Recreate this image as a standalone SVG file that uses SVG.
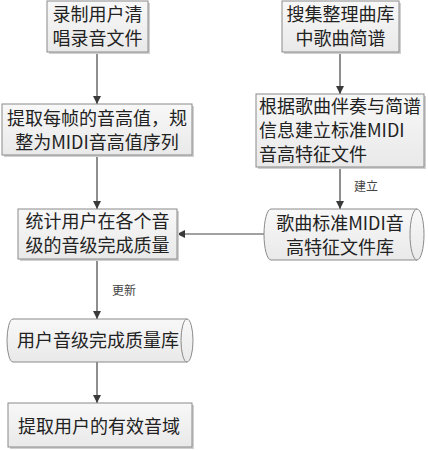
<svg xmlns="http://www.w3.org/2000/svg" width="428" height="450" viewBox="0 0 428 450">
<defs>
<linearGradient id="g" x1="0" y1="0" x2="0" y2="1">
<stop offset="0" stop-color="#f8f8f8"/>
<stop offset="1" stop-color="#e9e9e9"/>
</linearGradient>
<marker id="ah" markerWidth="8" markerHeight="8" refX="8" refY="4" orient="auto" markerUnits="userSpaceOnUse">
<path d="M0,0 L8,4 L0,8 Z" fill="#3a3a3a"/>
</marker>
</defs>
<style>
.box{fill:url(#g);stroke:#8a8a8a;stroke-width:1}
.sh{fill:#d0d0d0}
.t{font-family:"Noto Sans CJK SC","Microsoft YaHei",sans-serif;font-size:18px;fill:#222}
.c{text-anchor:middle}
.lbl{font-family:"Noto Sans CJK SC",serif;font-size:12px;fill:#444;text-anchor:middle}
.ln{stroke:#444;stroke-width:1.2;fill:none;marker-end:url(#ah)}
</style>
<rect width="428" height="450" fill="#fff"/>
<g id="connectors">
<line class="ln" x1="97" y1="52" x2="97" y2="104"/>
<line class="ln" x1="97" y1="155" x2="97" y2="209"/>
<line class="ln" x1="97" y1="259" x2="97" y2="319"/>
<line class="ln" x1="97" y1="362" x2="97" y2="403"/>
<line class="ln" x1="340" y1="52" x2="340" y2="94"/>
<line class="ln" x1="340" y1="167" x2="340" y2="209"/>
<line class="ln" x1="264" y1="234" x2="177" y2="234"/>
<text class="lbl" x="366" y="191">建立</text>
<text class="lbl" x="124" y="295">更新</text>
</g>
<g id="n1">
<rect class="sh" x="49" y="3" width="101" height="51"/>
<rect class="box" x="47" y="1" width="101" height="51"/>
<text class="t c" x="97.5" y="20.5">录制用户清</text>
<text class="t c" x="97.5" y="44.5">唱录音文件</text>
</g>
<g id="n2">
<rect class="sh" x="4" y="106" width="190" height="51"/>
<rect class="box" x="2" y="104" width="190" height="51"/>
<text class="t c" x="97" y="124.5">提取每帧的音高值，规</text>
<text class="t c" x="97" y="148.5">整为MIDI音高值序列</text>
</g>
<g id="n3">
<rect class="sh" x="284" y="3" width="117" height="51"/>
<rect class="box" x="282" y="1" width="117" height="51"/>
<text class="t c" x="340.5" y="20.5">搜集整理曲库</text>
<text class="t c" x="340.5" y="44.5">中歌曲简谱</text>
</g>
<g id="n4">
<rect class="sh" x="258" y="96" width="168" height="73"/>
<rect class="box" x="256" y="94" width="168" height="73"/>
<text class="t" x="259" y="113">根据歌曲伴奏与简谱</text>
<text class="t" x="259" y="137">信息建立标准MIDI</text>
<text class="t" x="259" y="161">音高特征文件</text>
</g>
<g id="n5">
<rect class="sh" x="20" y="211" width="159" height="50"/>
<rect class="box" x="18" y="209" width="159" height="50"/>
<text class="t c" x="97.5" y="228">统计用户在各个音</text>
<text class="t c" x="97.5" y="252">级的音级完成质量</text>
</g>
<g id="n6">
<path class="box" d="M271,209 L417,209 A7 25.5 0 0 1 417,260 L271,260 A7 25.5 0 0 1 271,209 Z"/>
<path class="box" d="M417,209 A7 25.5 0 0 0 417,260" fill="none"/>
<text class="t c" x="340" y="229.5">歌曲标准MIDI音</text>
<text class="t c" x="340" y="253.5">高特征文件库</text>
</g>
<g id="n7">
<path class="box" d="M13,319 L187,319 A6 21.5 0 0 1 187,362 L13,362 A6 21.5 0 0 1 13,319 Z"/>
<path class="box" d="M187,319 A6 21.5 0 0 0 187,362" fill="none"/>
<text class="t c" x="98" y="346.5">用户音级完成质量库</text>
</g>
<g id="n8">
<rect class="sh" x="10" y="405" width="184" height="44"/>
<rect class="box" x="8" y="403" width="184" height="44"/>
<text class="t c" x="99" y="432.5">提取用户的有效音域</text>
</g>
</svg>
